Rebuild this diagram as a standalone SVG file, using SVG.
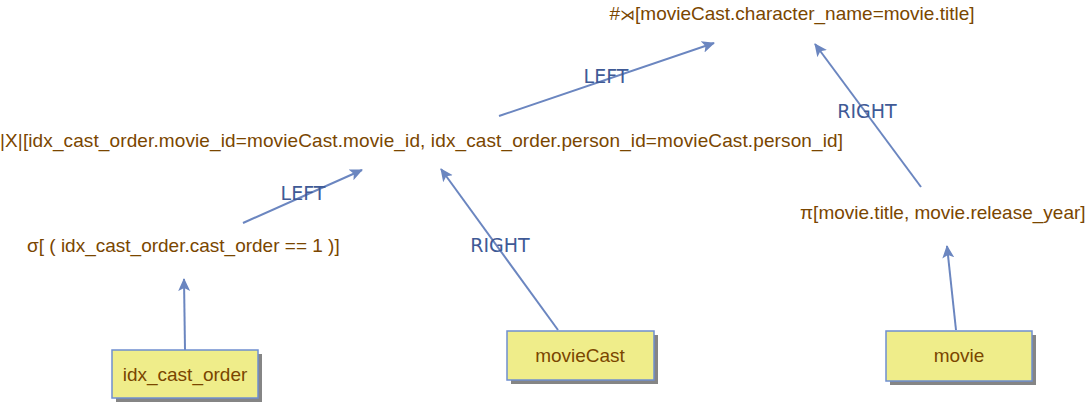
<svg xmlns="http://www.w3.org/2000/svg" width="1086" height="415" viewBox="0 0 1086 415">
<style>
.t{font-family:"Liberation Sans",Arial,sans-serif;font-size:19px;fill:#7a4600}
.l{font-family:"DejaVu Sans",Verdana,sans-serif;font-size:19px;fill:#3f5a96;text-anchor:middle}
.e{stroke:#6b86c0;stroke-width:2;fill:none;marker-end:url(#ah)}
.b{fill:#efed8a;stroke:#6f8fcf;stroke-width:1.5}
.s{fill:#858585}
</style>
<defs>
<marker id="ah" markerWidth="14" markerHeight="14" refX="12" refY="6" orient="auto" markerUnits="userSpaceOnUse" viewBox="0 0 14 12">
<path d="M0,0 L13,6 L0,12 L3,6 Z" fill="#6b86c0"/>
</marker>
</defs>
<rect width="1086" height="415" fill="#ffffff"/>
<g id="connectors">
<line class="e" x1="185" y1="350" x2="184" y2="279"/>
<line class="e" x1="243" y1="223" x2="362" y2="170"/>
<text class="l" x="303" y="200">LEFT</text>
<line class="e" x1="558" y1="330" x2="441" y2="169"/>
<text class="l" x="500" y="252">RIGHT</text>
<line class="e" x1="499" y1="116" x2="714" y2="43"/>
<text class="l" x="606" y="83">LEFT</text>
<line class="e" x1="921" y1="187" x2="815" y2="44"/>
<text class="l" x="867" y="118">RIGHT</text>
<line class="e" x1="956" y1="330" x2="947" y2="246"/>
</g>
<g id="semijoin"><text class="t" x="792" y="20" text-anchor="middle">#<tspan font-size="15">⋊</tspan>[movieCast.character_name=movie.title]</text></g>
<g id="join"><text class="t" x="0" y="147" textLength="843">|X|[idx_cast_order.movie_id=movieCast.movie_id, idx_cast_order.person_id=movieCast.person_id]</text></g>
<g id="select"><text class="t" x="27" y="252">σ[ ( idx_cast_order.cast_order == 1 )]</text></g>
<g id="project"><text class="t" x="800" y="219">π[movie.title, movie.release_year]</text></g>
<g id="idx_cast_order">
<rect class="s" x="116" y="354" width="146" height="48"/>
<rect class="b" x="112" y="350" width="146" height="48"/>
<text class="t" x="185" y="381" text-anchor="middle">idx_cast_order</text>
</g>
<g id="movieCast">
<rect class="s" x="511" y="335" width="147" height="49"/>
<rect class="b" x="507" y="331" width="147" height="49"/>
<text class="t" x="580" y="362" text-anchor="middle">movieCast</text>
</g>
<g id="movie">
<rect class="s" x="890" y="335" width="146" height="50"/>
<rect class="b" x="886" y="331" width="146" height="50"/>
<text class="t" x="959" y="362" text-anchor="middle">movie</text>
</g>
</svg>
